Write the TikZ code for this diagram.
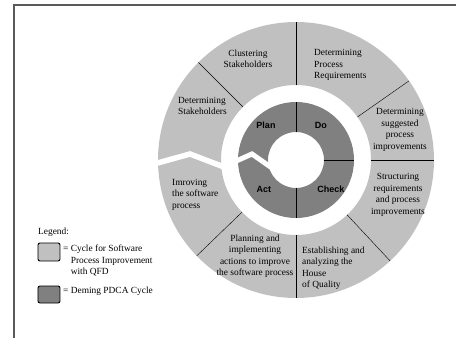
\documentclass[tikz,border=0pt]{standalone}
\usepackage{fontspec}
\setmainfont{Liberation Serif}
\newfontfamily\pdcafont{Liberation Sans}
\definecolor{qfdgray}{RGB}{192,192,192}
\definecolor{pdcagray}{RGB}{128,128,128}
\definecolor{framegray}{RGB}{90,90,90}
\begin{document}
\begin{tikzpicture}[x=1pt, y=1pt,
    stage/.style={font=\fontsize{9.4}{11.5}\selectfont, inner sep=0pt},
    phase/.style={font=\pdcafont\bfseries\fontsize{9}{10}\selectfont, inner sep=0pt},
    keybox/.style={draw, line width=0.9pt, rounded corners=2pt}]
  \useasboundingbox (-296,-178) rectangle (160,160);
  \draw[framegray, line width=1.2pt] (-282,-178) -- (-282,155) -- (160,155);
  % the two rings
  \fill[qfdgray, even odd rule] (0,0) circle (138pt) (0,0) circle (75pt);
  \fill[pdcagray, even odd rule] (0,0) circle (58pt) (0,0) circle (28pt);
  \foreach \a in {135, 90, 35, 0, -47, -90, -136}
    \draw (\a:75pt) -- (\a:138pt);
  \foreach \a in {90, 0, -90}
    \draw (\a:28pt) -- (\a:58pt);
  % arrow heads where the cycles close
  \draw[white, line width=5.5pt] (-142,-4) -- (-106,6) -- (-72,-7);
  \draw[white, line width=5pt] (-62,-2) -- (-44,6) -- (-24,-8);
  % outer steps
  \node[stage, align=left, anchor=west] (detstake) at (-118,54) {Determining\\Stakeholders};
  \node[stage, align=center] (cluster) at (-48,101) {Clustering\\Stakeholders};
  \node[stage, align=left, anchor=west] (detreq) at (18,95) {Determining\\Process\\Requirements};
  \node[stage, align=center] (detimp) at (104,30) {Determining\\suggested\\process\\improvements};
  \node[stage, align=center] (struct) at (102,-35) {Structuring\\requirements\\and process\\improvements};
  \node[stage, align=left, anchor=west] (house) at (6,-108.5) {Establishing and\\analyzing the\\House\\of Quality};
  \node[stage, align=center] (planimp) at (-41,-96) {Planning and\\implementing\\actions to improve\\the software process};
  \node[stage, align=left, anchor=west] (improve) at (-124,-34.5) {Imroving\\the software\\process};
  % PDCA
  \node[phase] (plan) at (-30,35) {Plan};
  \node[phase] (do) at (25,35) {Do};
  \node[phase] (act) at (-32,-29) {Act};
  \node[phase] (check) at (35,-29) {Check};
  % legend
  \node[stage, anchor=west] (legend) at (-258,-72) {Legend:};
  \draw[keybox, fill=qfdgray] (-258,-83) rectangle (-236,-101);
  \draw[keybox, fill=pdcagray] (-258,-126) rectangle (-236,-143);
  \node[stage, align=left, anchor=west] (keyqfd) at (-233,-100.5) {= Cycle for Software\\\phantom{= }Process Improvement\\\phantom{= }with QFD};
  \node[stage, anchor=west] (keypdca) at (-233,-131) {= Deming PDCA Cycle};
\end{tikzpicture}
\end{document}
